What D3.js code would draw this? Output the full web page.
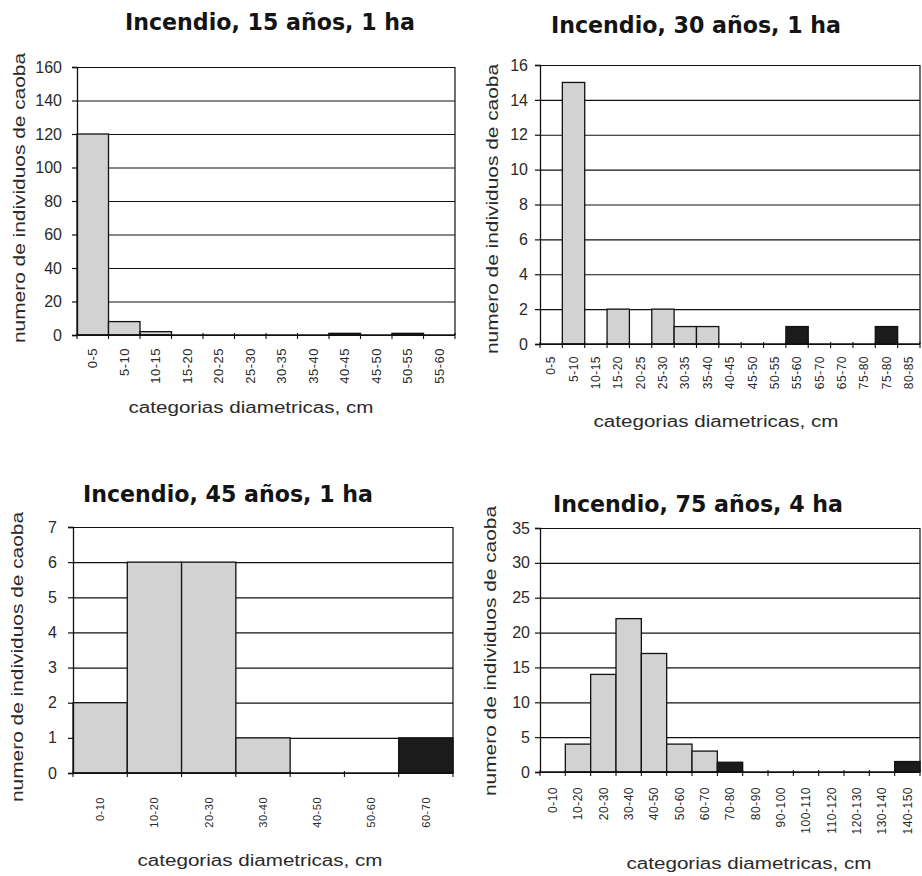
<!DOCTYPE html>
<html>
<head>
<meta charset="utf-8">
<script src="https://cdn.jsdelivr.net/npm/d3@7"></script>
<style>
  html, body { margin: 0; padding: 0; background: #fff; }
  svg { display: block; }
</style>
</head>
<body>
<svg id="chart" width="922" height="876"></svg>
<script>
// Diameter-class distributions of mahogany (caoba) after fires of different ages.
// "grey" = regular classes, "dark" = the largest trees in each stand.

const cats15 = ["0-5","5-10","10-15","15-20","20-25","25-30","30-35","35-40","40-45","45-50","50-55","55-60"];
const grey15 = [120, 8, 2, 0, 0, 0, 0, 0, 0, 0, 0, 0];
const dark15 = [0, 0, 0, 0, 0, 0, 0, 0, 1, 0, 1, 0];

const cats30 = ["0-5","5-10","10-15","15-20","20-25","25-30","30-35","35-40","40-45","45-50","50-55","55-60","65-70","65-70","75-80","75-80","80-85"];
const grey30 = [0, 15, 0, 2, 0, 2, 1, 1, 0, 0, 0, 0, 0, 0, 0, 0, 0];
const dark30 = [0, 0, 0, 0, 0, 0, 0, 0, 0, 0, 0, 1, 0, 0, 0, 1, 0];

const cats45 = ["0-10","10-20","20-30","30-40","40-50","50-60","60-70"];
const grey45 = [2, 6, 6, 1, 0, 0, 0];
const dark45 = [0, 0, 0, 0, 0, 0, 1];

const cats75 = ["0-10","10-20","20-30","30-40","40-50","50-60","60-70","70-80","80-90","90-100","100-110","110-120","120-130","130-140","140-150"];
const grey75 = [0, 4, 14, 22, 17, 4, 3, 0, 0, 0, 0, 0, 0, 0, 0];
const dark75 = [0, 0, 0, 0, 0, 0, 0, 1.4, 0, 0, 0, 0, 0, 0, 1.5];

const yTicks15 = [0, 20, 40, 60, 80, 100, 120, 140, 160];
const yTicks30 = [0, 2, 4, 6, 8, 10, 12, 14, 16];
const yTicks45 = [0, 1, 2, 3, 4, 5, 6, 7];
const yTicks75 = [0, 5, 10, 15, 20, 25, 30, 35];

const titles = ["Incendio, 15 años, 1 ha", "Incendio, 30 años, 1 ha", "Incendio, 45 años, 1 ha", "Incendio, 75 años, 4 ha"];
const yTitle = "numero de individuos de caoba";
const xTitle = "categorias diametricas, cm";

// Layout of the four panels
const panels = [
  { title: titles[0], cats: cats15, grey: grey15, dark: dark15, ticks: yTicks15,
    box: { l: 77, r: 455, t: 67, b: 335 }, titlePos: [270, 30], yTitlePos: [19, 198],
    xTitlePos: [251, 413], tickLabelTop: 348, tickFont: 13, yLabelGap: 15 },
  { title: titles[1], cats: cats30, grey: grey30, dark: dark30, ticks: yTicks30,
    box: { l: 540, r: 920, t: 65, b: 344 }, titlePos: [696, 33], yTitlePos: [492, 209],
    xTitlePos: [716, 427], tickLabelTop: 356, tickFont: 12, yLabelGap: 12 },
  { title: titles[2], cats: cats45, grey: grey45, dark: dark45, ticks: yTicks45,
    box: { l: 73, r: 453, t: 527, b: 773 }, titlePos: [228, 502], yTitlePos: [17, 657],
    xTitlePos: [260, 866], tickLabelTop: 797, tickFont: 11, yLabelGap: 16 },
  { title: titles[3], cats: cats75, grey: grey75, dark: dark75, ticks: yTicks75,
    box: { l: 540, r: 920, t: 528, b: 772 }, titlePos: [698, 512], yTitlePos: [490, 651],
    xTitlePos: [749, 869], tickLabelTop: 787, tickFont: 12, yLabelGap: 10 }
];

const svg = d3.select("#chart");
const ink = "#111";
const textInk = "#2a2a2a";
const sans = "'Liberation Sans', Arial, sans-serif";

panels.forEach(p => {
  const g = svg.append("g");
  const { l, r, t, b } = p.box;

  const x = d3.scaleBand().domain(d3.range(p.cats.length)).range([l, r]).padding(0);
  const y = d3.scaleLinear().domain([0, d3.max(p.ticks)]).range([b, t]);

  // horizontal gridlines (top one doubles as the frame)
  g.append("g")
    .attr("transform", `translate(${l},0)`)
    .call(d3.axisLeft(y).tickValues(p.ticks).tickSize(-(r - l)).tickFormat(""))
    .call(s => s.select(".domain").remove())
    .call(s => s.selectAll("line").attr("stroke", ink).attr("stroke-width", 1.2));

  // right frame
  g.append("line").attr("x1", r).attr("x2", r).attr("y1", y(d3.max(p.ticks))).attr("y2", b)
    .attr("stroke", ink).attr("stroke-width", 1.2);

  // bars
  const rows = p.cats.map((c, i) => ({ i, grey: p.grey[i], dark: p.dark[i] }));
  g.selectAll("rect.grey").data(rows.filter(d => d.grey > 0)).join("rect")
    .attr("class", "grey")
    .attr("x", d => x(d.i)).attr("width", x.bandwidth())
    .attr("y", d => y(d.grey)).attr("height", d => y(0) - y(d.grey))
    .attr("fill", "#d2d2d2").attr("stroke", ink).attr("stroke-width", 1.3);
  g.selectAll("rect.dark").data(rows.filter(d => d.dark > 0)).join("rect")
    .attr("class", "dark")
    .attr("x", d => x(d.i)).attr("width", x.bandwidth())
    .attr("y", d => y(d.dark)).attr("height", d => y(0) - y(d.dark))
    .attr("fill", "#1b1b1b").attr("stroke", ink).attr("stroke-width", 1.3);

  // y axis
  const yAxis = g.append("g")
    .attr("transform", `translate(${l},0)`)
    .call(d3.axisLeft(y).tickValues(p.ticks).tickFormat(d3.format("d"))
      .tickSize(5).tickPadding(p.yLabelGap - 5))
    .call(s => s.select(".domain").attr("stroke", ink).attr("stroke-width", 1.3))
    .call(s => s.selectAll("line").attr("stroke", ink).attr("stroke-width", 1.2));
  yAxis.selectAll("text").attr("font-family", sans).attr("font-size", 16).attr("fill", textInk);

  // x axis baseline and boundary ticks
  g.append("line").attr("x1", l).attr("x2", r).attr("y1", b).attr("y2", b)
    .attr("stroke", ink).attr("stroke-width", 1.3);
  const bounds = d3.range(p.cats.length + 1).map(k => l + k * x.step());
  g.selectAll("line.xt").data(bounds).join("line")
    .attr("class", "xt")
    .attr("x1", d => d).attr("x2", d => d).attr("y1", b - 2).attr("y2", b + 4)
    .attr("stroke", ink).attr("stroke-width", 1.1);

  // rotated category labels, top-aligned under the axis
  g.selectAll("text.cat").data(rows).join("text")
    .attr("class", "cat")
    .attr("transform", d => `translate(${x(d.i) + x.bandwidth() / 2},${p.tickLabelTop}) rotate(-90)`)
    .attr("text-anchor", "end")
    .attr("dy", "0.35em")
    .attr("font-family", sans).attr("font-size", p.tickFont).attr("fill", textInk)
    .attr("letter-spacing", 0.5)
    .text(d => p.cats[d.i]);

  // titles
  g.append("text")
    .attr("x", p.titlePos[0]).attr("y", p.titlePos[1])
    .attr("text-anchor", "middle")
    .attr("font-family", "'Liberation Sans Narrow', 'DejaVu Sans Condensed', 'Arial Narrow', sans-serif")
    .attr("font-weight", "bold").attr("font-size", 23).attr("fill", "#141414")
    .attr("textLength", 290).attr("lengthAdjust", "spacingAndGlyphs")
    .text(p.title);

  g.append("text")
    .attr("transform", `translate(${p.yTitlePos[0]},${p.yTitlePos[1]}) rotate(-90)`)
    .attr("text-anchor", "middle").attr("dy", "0.35em")
    .attr("font-family", sans).attr("font-size", 16).attr("fill", textInk)
    .attr("textLength", 290).attr("lengthAdjust", "spacingAndGlyphs")
    .text(yTitle);

  g.append("text")
    .attr("x", p.xTitlePos[0]).attr("y", p.xTitlePos[1])
    .attr("text-anchor", "middle")
    .attr("font-family", sans).attr("font-size", 16).attr("fill", textInk)
    .attr("textLength", 245).attr("lengthAdjust", "spacingAndGlyphs")
    .text(xTitle);
});
</script>
</body>
</html>
